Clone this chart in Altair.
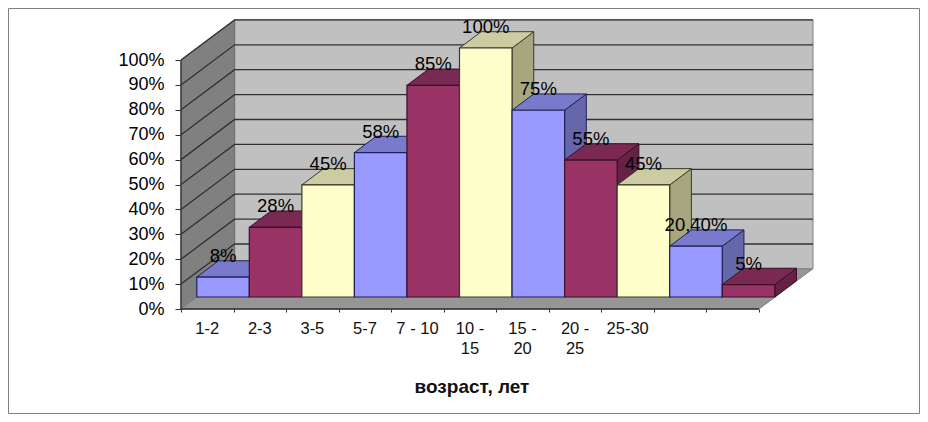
import altair as alt
import pandas as pd

# ---- values
categories = ["1-2", "2-3", "3-5", "5-7", "7 - 10", "10 -\n15", "15 -\n20", "20 -\n25", "25-30", "", ""]
values = [8, 28, 45, 58, 85, 100, 75, 55, 45, 20.4, 5]
value_labels = ["8%", "28%", "45%", "58%", "85%", "100%", "75%", "55%", "45%", "20,40%", "5%"]
series_kind = ["a", "b", "c", "a", "b", "c", "a", "b", "c", "a", "b"]
y_ticks = [0, 10, 20, 30, 40, 50, 60, 70, 80, 90, 100]
x_ticks = list(range(12))

kinds = ["a", "b", "c"]
front_colors = ["#9999FF", "#993366", "#FFFFCC"]
top_colors = ["#7A7ACC", "#7A2952", "#CCCCA3"]
side_colors = ["#6666AA", "#662244", "#A6A67F"]
edge_colors = ["#20205A", "#3A1028", "#3A3A2A"]

# ---- scene depth, in axis units
WALL_DX, WALL_DY = 1.02, 16.1
BAR_X0, BAR_Y0 = 0.30, 4.82
BAR_DX, BAR_DY = 0.413, 6.55
XMAX, YMAX = 12.027, 116.47
N = len(values)

x_scale = alt.Scale(domain=[0, XMAX], nice=False, zero=False)
y_scale = alt.Scale(domain=[0, YMAX], nice=False, zero=False)
X = alt.X("x:Q", scale=x_scale, title=None,
          axis=alt.Axis(values=x_ticks, labels=False, domain=False, grid=False,
                        tickSize=3, tickColor="#303030", title=None))
Y = alt.Y("y:Q", scale=y_scale, title=None, stack=False,
          axis=alt.Axis(values=y_ticks, labelExpr="datum.value + '%'", domain=False, grid=False,
                        tickSize=6, tickColor="#303030", labelFontSize=18, labelFont="Liberation Sans",
                        labelColor="#000000", labelPadding=11, labelOverlap=False, labelBound=False,
                        title=None))
Y2 = alt.Y2("y0:Q")


def face(rows, fill, stroke="#707070", width=1):
    return alt.Chart(pd.DataFrame(rows)).mark_area(fill=fill, stroke=stroke, strokeWidth=width).encode(x=X, y=Y, y2=Y2)


def line(rows, color="#303030", width=1.3):
    return alt.Chart(pd.DataFrame(rows)).mark_line(color=color, strokeWidth=width).encode(
        x=X, y=Y, detail="g:N")


# walls and floor
back = face([{"x": WALL_DX, "y": YMAX - 0.37, "y0": WALL_DY}, {"x": XMAX, "y": YMAX - 0.37, "y0": WALL_DY}], "#C0C0C0", "#808080")
left = face([{"x": 0, "y": 100, "y0": 0}, {"x": WALL_DX, "y": 100 + WALL_DY, "y0": WALL_DY}], "#808080", "#707070")
floor = face([
    {"x": 0, "y": 0, "y0": 0},
    {"x": WALL_DX, "y": WALL_DY, "y0": 0},
    {"x": N, "y": WALL_DY, "y0": 0},
    {"x": N + WALL_DX, "y": WALL_DY, "y0": WALL_DY},
], "#969696", "#808080")

grid_rows = []
for t in y_ticks[1:]:
    grid_rows += [
        {"g": t, "x": 0, "y": t},
        {"g": t, "x": WALL_DX, "y": t + WALL_DY},
        {"g": t, "x": XMAX, "y": t + WALL_DY},
    ]
grid = line(grid_rows)
axis_lines = line([
    {"g": "v", "x": 0, "y": 100}, {"g": "v", "x": 0, "y": 0},
], "#303030", 1.3) + line([
    {"g": "h", "x": 0, "y": 0}, {"g": "h", "x": N, "y": 0},
], "#303030", 1.5)

# bars
side_rows, top_rows, front_rows, label_rows = [], [], [], []
for i, (v, k, lab, cat) in enumerate(zip(values, series_kind, value_labels, categories)):
    x0 = i + BAR_X0
    x1 = x0 + 1
    h = BAR_Y0 + v
    side_rows += [
        {"b": i, "k": k, "x": x1, "y": h, "y0": BAR_Y0},
        {"b": i, "k": k, "x": x1 + BAR_DX, "y": h + BAR_DY, "y0": BAR_Y0 + BAR_DY},
    ]
    top_rows += [
        {"b": i, "k": k, "x": x0, "y": h, "y0": h},
        {"b": i, "k": k, "x": x0 + BAR_DX, "y": h + BAR_DY, "y0": h},
        {"b": i, "k": k, "x": x1, "y": h + BAR_DY, "y0": h},
        {"b": i, "k": k, "x": x1 + BAR_DX, "y": h + BAR_DY, "y0": h + BAR_DY},
    ]
    front_rows.append({"b": i, "k": k, "x": x0, "x2": x1, "y": h, "y0": BAR_Y0})
    label_rows.append({"x": x0 + 0.5, "y": h, "t": lab})

cat_rows = [{"x": i + 0.5, "y": 0, "t": c} for i, c in enumerate(categories) if c]


def edge():
    return alt.Stroke("k:N", scale=alt.Scale(domain=kinds, range=edge_colors), legend=None)


sides = alt.Chart(pd.DataFrame(side_rows)).mark_area(strokeWidth=1, opacity=1).encode(
    x=X, y=Y, y2=Y2, fill=alt.Fill("k:N", scale=alt.Scale(domain=kinds, range=side_colors), legend=None),
    stroke=edge(), detail="b:N")
tops = alt.Chart(pd.DataFrame(top_rows)).mark_area(strokeWidth=1, opacity=1).encode(
    x=X, y=Y, y2=Y2, fill=alt.Fill("k:N", scale=alt.Scale(domain=kinds, range=top_colors), legend=None),
    stroke=edge(), detail="b:N")
fronts = alt.Chart(pd.DataFrame(front_rows)).mark_rect(strokeWidth=1.2, opacity=1).encode(
    x=X, x2="x2:Q", y=Y, y2=Y2, fill=alt.Fill("k:N", scale=alt.Scale(domain=kinds, range=front_colors), legend=None),
    stroke=edge())

labels = alt.Chart(pd.DataFrame(label_rows)).mark_text(
    font="Liberation Sans", fontSize=18.5, color="#000000", baseline="alphabetic", align="center", dy=-15
).encode(x=X, y=Y, text="t:N")

cat_labels = alt.Chart(pd.DataFrame(cat_rows)).mark_text(
    font="Liberation Sans", fontSize=16.5, color="#111111", baseline="alphabetic", align="center",
    lineBreak="\n", lineHeight=19.5
).encode(x=X, y=alt.value(315), text="t:N")

title = alt.Chart(pd.DataFrame({"t": ["возраст, лет"]})).mark_text(
    font="Liberation Sans", fontSize=19, fontWeight="bold", color="#111111", baseline="alphabetic", align="center"
).encode(x=alt.value(291), y=alt.value(374), text="t:N")

frame = alt.Chart(pd.DataFrame({"a": [0]})).mark_rect(fillOpacity=0, stroke="#808080", strokeWidth=1).encode(
    x=alt.value(-172.5), x2=alt.value(738.5), y=alt.value(-10.5), y2=alt.value(394.5))

chart = alt.layer(
    frame, back, left, floor, grid, axis_lines,
    sides, tops, fronts, labels, cat_labels, title,
).resolve_scale(fill="independent").properties(
    width=632, height=290,
    autosize=alt.AutoSizeParams(type="none"),
    padding={"left": 173, "top": 11, "right": 107, "bottom": 105},
    background="white",
).configure_view(stroke=None)

chart.save("out.html", embed_options={"renderer": "svg", "actions": False})
